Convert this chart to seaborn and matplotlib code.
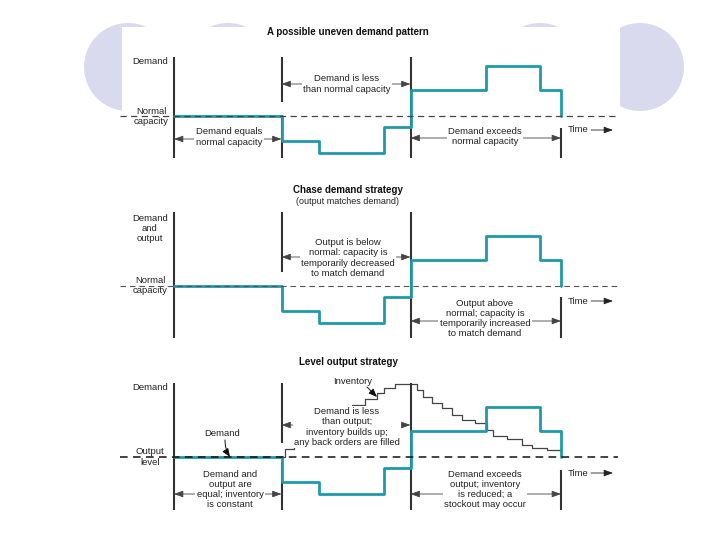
import numpy as np
import pandas as pd
import matplotlib
matplotlib.use("Agg")
import matplotlib.pyplot as plt
import seaborn as sns
from matplotlib.patches import Circle, Rectangle

sns.set_theme(style="white")
plt.rcParams['font.family'] = ['Liberation Sans', 'DejaVu Sans']

# ---------------- data ----------------
# demand pattern (steps): period start times and demand level (normal capacity = 100)
period_start = [0, 10, 13.5, 19.5, 22, 29, 34, 36]
demand_level = [100, 75, 63, 89, 126, 150, 126, 100]
normal_capacity = 100
# phase boundaries: equal / below / above / end
phase_bounds = [0, 10, 22, 36]
# inventory under level output strategy (steps)
inv_time = [10, 10.3, 11.2, 12.1, 13.0, 13.9, 14.8, 15.7, 16.6, 17.8, 18.9, 19.5, 20.6,
            22.6, 23.2, 24.0, 24.9, 25.9, 26.8, 28.0, 29.1, 29.7, 31.0, 32.4, 33.3, 34.7, 36.0]
inv_level = [100, 108, 114, 120, 126, 132, 138, 145, 152, 158, 164, 169, 173,
             167, 160, 154, 149, 142, 137, 134, 127, 121, 118, 112, 109, 107, 107]

TEAL = "#1f9aa8"
DARK = "#333333"
W, H = 720, 540
PX_PER_T = 10.75
X0 = 174

fig = plt.figure(figsize=(7.2, 5.4), dpi=100)

# background decoration (slide template)
bg = fig.add_axes([0, 0, 1, 1], zorder=0)
bg.set_xlim(0, W); bg.set_ylim(H, 0); bg.axis('off')
for cx in [128, 228, 540, 640]:
    bg.add_patch(Circle((cx, 67), 44, fc="#dadaee", ec="none"))
bg.add_patch(Rectangle((122, 27), 498, 520, fc="white", ec="none"))

df = pd.DataFrame({"t": period_start, "demand": demand_level})
inv = pd.DataFrame({"t": inv_time, "inventory": inv_level})


def make_panel(top, bot, normal_px, z):
    ax = fig.add_axes([0, 1 - bot / H, 1, (bot - top) / H], zorder=z)
    ax.set_xlim(-X0 / PX_PER_T, (W - X0) / PX_PER_T)
    ax.set_ylim(normal_capacity - (bot - normal_px), normal_capacity + (normal_px - top))
    ax.axis('off')
    ax.patch.set_alpha(0)
    U = lambda y: normal_capacity + (normal_px - y)
    return ax, U


def arrow2(ax, t0, t1, u):
    ax.annotate("", xy=(t1, u), xytext=(t0, u),
                arrowprops=dict(arrowstyle="<|-|>,head_length=0.55,head_width=0.2",
                                color="#444444", lw=0.6, shrinkA=0, shrinkB=0,
                                mutation_scale=10))


def demand_line(ax):
    sns.lineplot(data=df, x="t", y="demand", ax=ax, drawstyle="steps-post",
                 color=TEAL, lw=2.0, estimator=None, sort=False, legend=False, zorder=3)
    ax.set_xlabel(""); ax.set_ylabel("")


b0, b1, b2, b3 = phase_bounds

# ---------- panel 1 ----------
ax1, U1 = make_panel(0, 170, 116, 1)
demand_line(ax1)
ax1.axhline(normal_capacity, xmin=120 / W, xmax=618 / W, color="#444444", lw=0.9,
            dashes=(5, 3.5), zorder=4)
ax1.vlines(b0, U1(158), U1(57), color=DARK, lw=1.5, zorder=2)
ax1.vlines(b1, U1(102), U1(57), color=DARK, lw=1.5, zorder=2)
ax1.vlines(b1, U1(158), U1(115), color=DARK, lw=1.5, zorder=2)
ax1.vlines(b2, U1(158), U1(57), color=DARK, lw=1.5, zorder=2)
ax1.vlines(b3, U1(158), U1(128), color=DARK, lw=1.5, zorder=2)
arrow2(ax1, b0, b1, U1(139))
arrow2(ax1, b1, b2, U1(84))
arrow2(ax1, b2, b3, U1(138))

# ---------- panel 2 ----------
ax2, U2 = make_panel(170, 350, 286, 1)
demand_line(ax2)
ax2.axhline(normal_capacity, xmin=120 / W, xmax=618 / W, color="#555555", lw=0.8,
            dashes=(5, 3.5), zorder=4)
ax2.vlines(b0, U2(338), U2(212), color=DARK, lw=1.5, zorder=2)
ax2.vlines(b1, U2(272), U2(212), color=DARK, lw=1.5, zorder=2)
ax2.vlines(b2, U2(338), U2(212), color=DARK, lw=1.5, zorder=2)
ax2.vlines(b3, U2(338), U2(297), color=DARK, lw=1.5, zorder=2)
arrow2(ax2, b1, b2, U2(257))
arrow2(ax2, b2, b3, U2(321))

# ---------- panel 3 ----------
ax3, U3 = make_panel(350, 540, 457, 1)
demand_line(ax3)
sns.lineplot(data=inv, x="t", y="inventory", ax=ax3, drawstyle="steps-post",
             color="#444444", lw=0.9, estimator=None, sort=False, legend=False, zorder=2)
ax3.set_xlabel(""); ax3.set_ylabel("")
ax3.axhline(normal_capacity, xmin=120 / W, xmax=618 / W, color="#111111", lw=1.1,
            dashes=(5, 3.5), zorder=4)
ax3.vlines(b0, U3(510), U3(383), color=DARK, lw=1.5, zorder=2)
ax3.vlines(b1, U3(443), U3(383), color=DARK, lw=1.5, zorder=2)
ax3.vlines(b1, U3(510), U3(462), color=DARK, lw=1.5, zorder=2)
ax3.vlines(b2, U3(510), U3(383), color=DARK, lw=1.5, zorder=2)
ax3.vlines(b3, U3(510), U3(470), color=DARK, lw=1.5, zorder=2)
arrow2(ax3, b0, b1, U3(494))
arrow2(ax3, b1, b2, U3(425))
arrow2(ax3, b2, b3, U3(494))

# ---------- text overlay ----------
tx = fig.add_axes([0, 0, 1, 1], zorder=5)
tx.set_xlim(0, W); tx.set_ylim(H, 0); tx.axis('off'); tx.patch.set_alpha(0)
FS = 6.8
TC = "#222222"
box = dict(fc="white", ec="none", pad=1.0)


def T(x, y, s, ha="center", bold=False, fs=FS, bbox=None):
    tx.text(x, y, s, ha=ha, va="center", fontsize=fs, color="#111111" if bold else TC,
            fontweight="bold" if bold else "normal", linespacing=1.15, bbox=bbox)


def time_arrow(y):
    T(568, y, "Time", ha="left")
    tx.annotate("", xy=(613, y), xytext=(591, y),
                arrowprops=dict(arrowstyle="-|>,head_length=0.55,head_width=0.2",
                                color="#222222", lw=0.6, shrinkA=0, shrinkB=0,
                                mutation_scale=10))


# panel 1
T(348, 32, "A possible uneven demand pattern", bold=True, fs=7)
T(150, 62, "Demand")
T(151, 116.5, "Normal\ncapacity")
T(229, 137, "Demand equals\nnormal capacity", bbox=box)
T(347, 84, "Demand is less\nthan normal capacity", bbox=box)
T(485, 136.5, "Demand exceeds\nnormal capacity", bbox=box)
time_arrow(130)

# panel 2
T(348, 190, "Chase demand strategy", bold=True, fs=7)
T(348, 201, "(output matches demand)", fs=6.5)
T(150, 228.5, "Demand\nand\noutput")
T(150, 285.5, "Normal\ncapacity")
T(348, 258, "Output is below\nnormal: capacity is\ntemporarily decreased\nto match demand", bbox=box)
T(485, 318.5, "Output above\nnormal; capacity is\ntemporarily increased\nto match demand", bbox=box)
time_arrow(301)

# panel 3
T(348, 362, "Level output strategy", bold=True, fs=7)
T(150, 388, "Demand")
T(353, 381, "Inventory")
tx.annotate("", xy=(377, 397), xytext=(367, 387),
            arrowprops=dict(arrowstyle="-|>,head_length=0.5,head_width=0.2",
                            color="#111111", lw=0.7, shrinkA=0, shrinkB=0, mutation_scale=10))
T(347, 427, "Demand is less\nthan output;\ninventory builds up;\nany back orders are filled", bbox=box)
T(222, 433, "Demand")
tx.annotate("", xy=(230, 457), xytext=(225, 440),
            arrowprops=dict(arrowstyle="-|>,head_length=0.5,head_width=0.2",
                            connectionstyle="arc3,rad=0.15",
                            color="#111111", lw=0.7, shrinkA=0, shrinkB=0, mutation_scale=10))
T(150, 457, "Output\nlevel")
T(230, 489.5, "Demand and\noutput are\nequal; inventory\nis constant", bbox=box)
T(485, 489.5, "Demand exceeds\noutput; inventory\nis reduced; a\nstockout may occur", bbox=box)
time_arrow(473)

fig.savefig("out.png", dpi=100)
